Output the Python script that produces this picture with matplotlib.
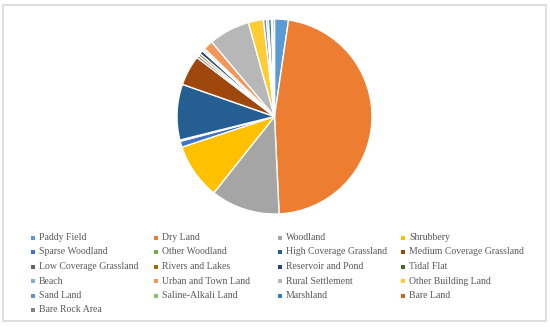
import matplotlib
matplotlib.use('Agg')
import matplotlib.pyplot as plt
from matplotlib.patches import Rectangle

# land use categories and their share (percent)
categories = ['Paddy Field', 'Dry Land', 'Woodland', 'Shrubbery',
              'Sparse Woodland', 'Other Woodland', 'High Coverage Grassland', 'Medium Coverage Grassland',
              'Low Coverage Grassland', 'Rivers and Lakes', 'Reservoir and Pond', 'Tidal Flat',
              'Beach', 'Urban and Town Land', 'Rural Settlement', 'Other Building Land',
              'Sand Land', 'Saline-Alkali Land', 'Marshland', 'Bare Land',
              'Bare Rock Area']
shares = [2.3, 46.8, 11.4, 9.2,
          1.0, 0.2, 9.2, 5.0,
          0.4, 0.4, 0.6, 0.2,
          0.3, 1.6, 6.8, 2.5,
          0.5, 0.3, 0.5, 0.2,
          0.3]
colors = ['#5B9BD5', '#ED7D31', '#A5A5A5', '#FFC000',
          '#4472C4', '#70AD47', '#255E91', '#9E480E',
          '#636363', '#997300', '#264478', '#43682B',
          '#7CAFDD', '#F1975A', '#B7B7B7', '#FFCD33',
          '#698ED0', '#8CC168', '#327DC2', '#D26012',
          '#848484']

W, H = 550, 327
fig = plt.figure(figsize=(5.5, 3.27), dpi=100)

# light grey frame round the chart area
fig.patches.append(Rectangle((3 / W, 1 - 321 / H), 543 / W, 316 / H, transform=fig.transFigure,
                             fill=False, edgecolor='#D9D9D9', linewidth=1.2))

# pie, centre about (274.5, 116.5) px, radius 97.5 px
cx, cy, r = 274.5, 116.5, 97.5
ax = fig.add_axes([(cx - r) / W, 1 - (cy + r) / H, 2 * r / W, 2 * r / H])
ax.pie(shares, colors=colors, startangle=90, counterclock=False,
       wedgeprops=dict(edgecolor='white', linewidth=1))
ax.set_xlim(-1, 1)
ax.set_ylim(-1, 1)
ax.set_aspect('equal')
ax.axis('off')

# legend laid out in four equal columns like the office chart
col_x = [33, 156, 280, 403]
row_y0, row_dy = 237.5, 14.5
for i, (name, c) in enumerate(zip(categories, colors)):
    col, row = i % 4, i // 4
    x = col_x[col]
    y = row_y0 + row * row_dy
    fig.patches.append(Rectangle(((x - 2) / W, 1 - (y + 2) / H), 4 / W, 4 / H,
                                 transform=fig.transFigure, color=c, linewidth=0))
    fig.text((x + 6) / W, 1 - y / H, name, fontsize=7, family='Liberation Serif',
             color='#595959', va='center', ha='left')

fig.savefig('out.png', dpi=100)
